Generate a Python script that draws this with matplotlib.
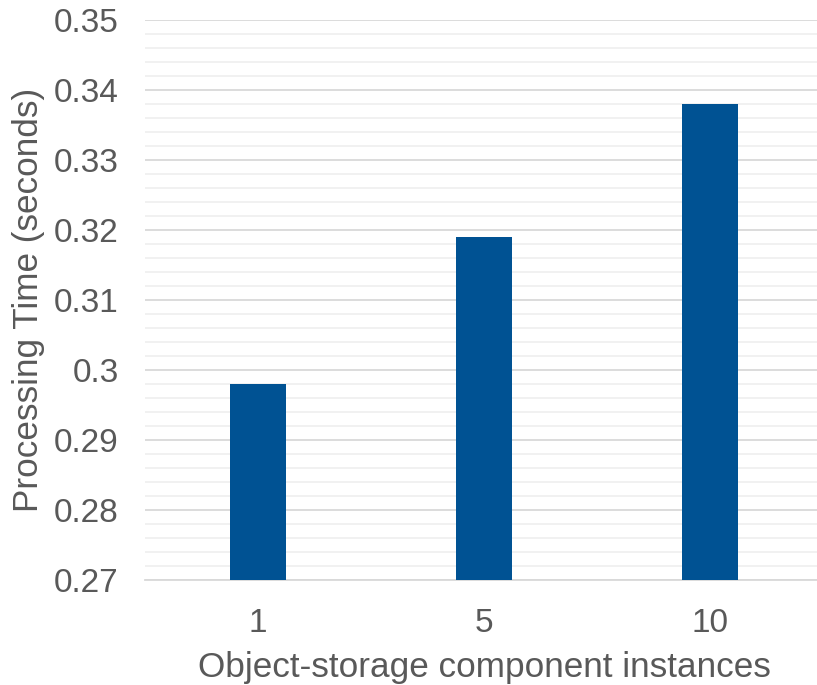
import matplotlib
matplotlib.use("Agg")
import matplotlib.pyplot as plt
import numpy as np

categories = ["1", "5", "10"]
values = [0.298, 0.319, 0.338]

plt.rcParams['font.family'] = ['Liberation Sans', 'DejaVu Sans']
fig = plt.figure(figsize=(8.17, 6.85), dpi=100)
ax = fig.add_axes([145/817, 1-580/685, 678/817, 560/685])

x = np.arange(len(categories))
ax.bar(x, values, width=0.25, color='#005293', zorder=3)
ax.set_xlim(-0.5, 2.5)
ax.set_ylim(0.27, 0.35)
ax.set_yticks(np.arange(0.27, 0.3501, 0.01))
ax.set_yticklabels(["0.27", "0.28", "0.29", "0.3", "0.31", "0.32", "0.33", "0.34", "0.35"])
ax.set_yticks(np.arange(0.27, 0.3501, 0.002), minor=True)
ax.set_xticks(x)
ax.set_xticklabels(categories)
ax.grid(axis='y', which='major', color='#d9d9d9', linewidth=1.3, zorder=0)
ax.grid(axis='y', which='minor', color='#f0f0f0', linewidth=1.3, zorder=0)
for s in ['top', 'right', 'left']:
    ax.spines[s].set_visible(False)
ax.spines['bottom'].set_color('#d9d9d9')
ax.spines['bottom'].set_linewidth(1.3)
ax.tick_params(axis='both', which='both', length=0, labelsize=24, labelcolor='#595959')
ax.tick_params(axis='y', pad=19)
ax.tick_params(axis='x', pad=20)
ax.set_xlabel("Object-storage component instances", fontsize=25.3, color='#595959', labelpad=9)
ax.set_ylabel("Processing Time (seconds)", fontsize=25.3, color='#595959', labelpad=6)

fig.savefig("out.png", dpi=100)
